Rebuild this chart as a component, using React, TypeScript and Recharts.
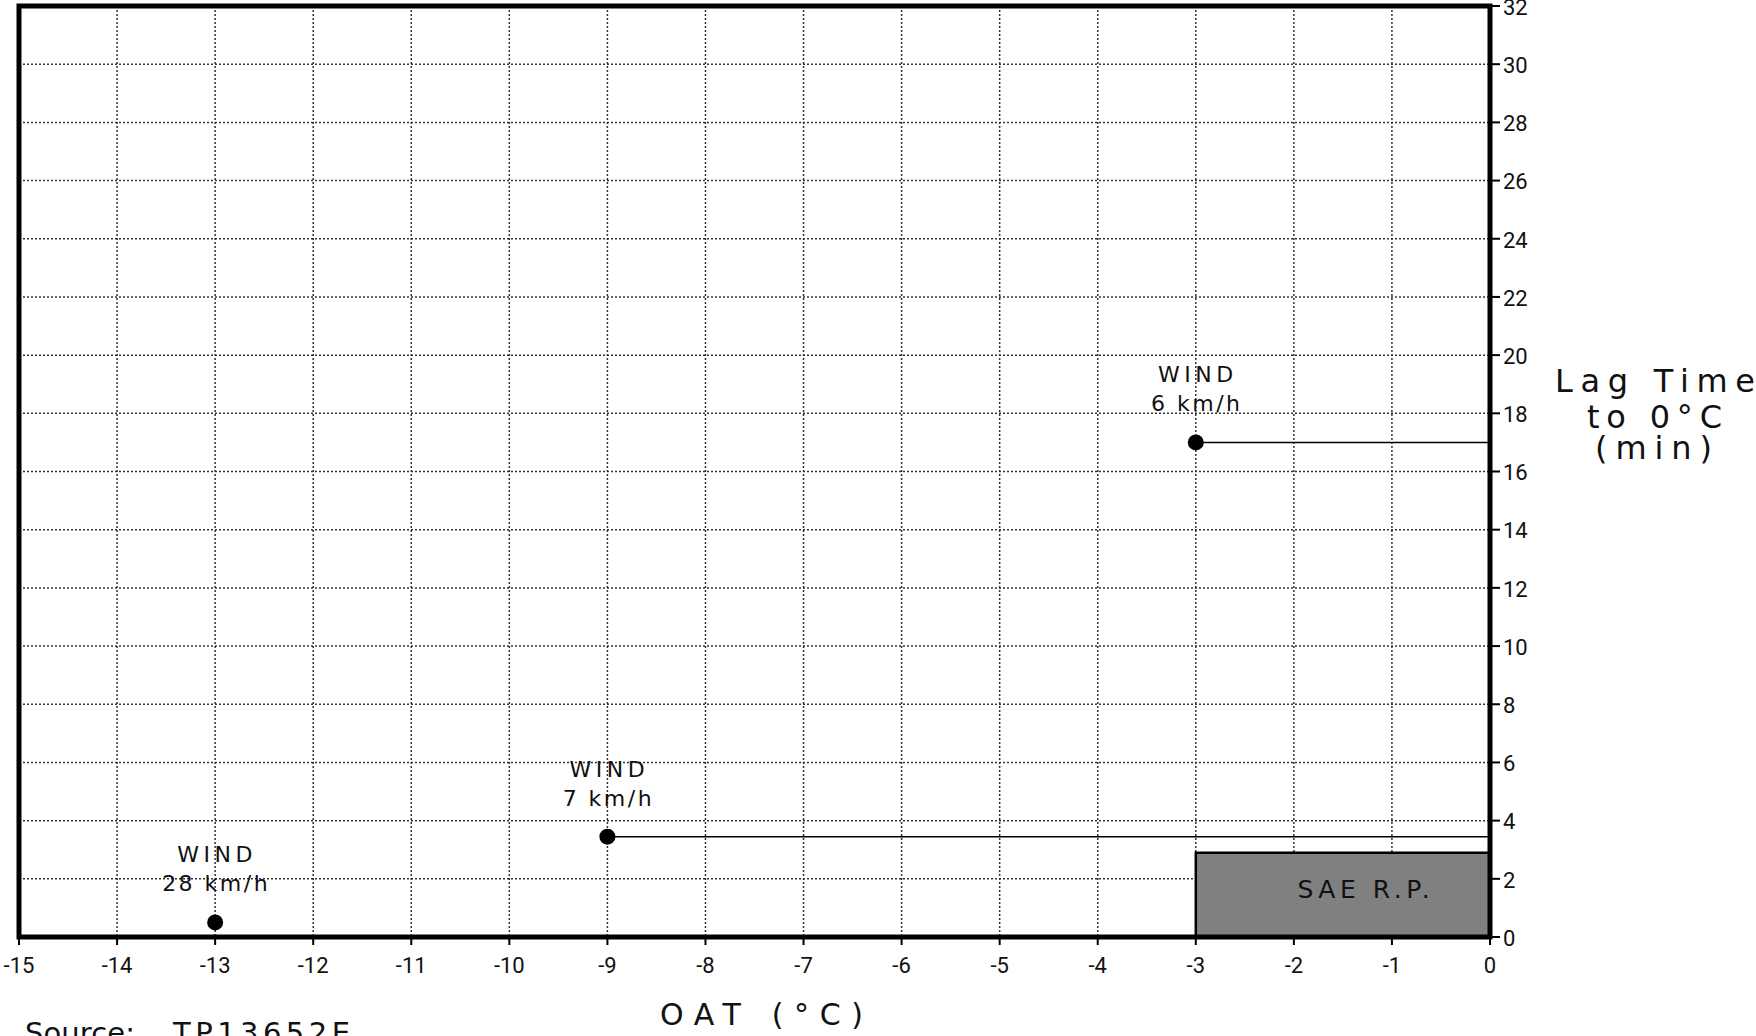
import React from 'react';
import {
  ComposedChart,
  Scatter,
  XAxis,
  YAxis,
  CartesianGrid,
  ReferenceArea,
  ReferenceLine,
  Label,
  Customized,
} from 'recharts';

const xTicks = [-15, -14, -13, -12, -11, -10, -9, -8, -7, -6, -5, -4, -3, -2, -1, 0];
const yTicks = [0, 2, 4, 6, 8, 10, 12, 14, 16, 18, 20, 22, 24, 26, 28, 30, 32];

// test points: outside air temp vs lag time
const oat = [-13, -9, -3];
const lagTime = [0.5, 3.45, 17];
const windSpeed = ['28 km/h', '7 km/h', '6 km/h'];
const extendToZero = [false, true, true];

// SAE recommended practice block
const saeOat = [-3, 0];
const saeLag = [0, 2.9];

const points = oat.map((x, i) => ({ x, y: lagTime[i], wind: windSpeed[i] }));

const SANS = '"DejaVu Sans", Verdana, sans-serif';

const WindDot = (props: any) => {
  const { cx, cy, payload } = props;
  return (
    <g>
      <circle cx={cx} cy={cy} r={8} fill="#000" />
      <text x={cx + 2} y={cy - 60} textAnchor="middle" fontSize={22} letterSpacing={4.5} fontFamily={SANS} fill="#111">
        WIND
      </text>
      <text x={cx + 1} y={cy - 31} textAnchor="middle" fontSize={22} letterSpacing={2.5} fontFamily={SANS} fill="#111">
        {payload.wind}
      </text>
    </g>
  );
};

const Titles = () => (
  <g fontFamily={SANS} fill="#111">
    <text x={1555} y={392} fontSize={32} textLength={200} lengthAdjust="spacing">Lag Time</text>
    <text x={1587} y={428} fontSize={32} textLength={135} lengthAdjust="spacing">to 0°C</text>
    <text x={1595} y={459} fontSize={32} textLength={117} lengthAdjust="spacing">(min)</text>
    <text x={660} y={1025} fontSize={30} textLength={203} lengthAdjust="spacing">OAT (°C)</text>
    <text x={25} y={1043} fontSize={29} textLength={110} lengthAdjust="spacing">Source:</text>
    <text x={173} y={1043} fontSize={29} textLength={177} lengthAdjust="spacing">TP13652E</text>
  </g>
);

export default function App() {
  return (
    <div style={{ position: 'absolute', left: 0, top: 0, width: 1756, height: 1036, background: '#fff' }}>
      <ComposedChart
        width={1756}
        height={1036}
        data={points}
        margin={{ top: 6, right: 0, bottom: 0, left: 19 }}
      >
        <CartesianGrid stroke="#333" strokeDasharray="2 2" strokeWidth={1.5} />
        <XAxis
          type="number"
          dataKey="x"
          domain={[-15, 0]}
          ticks={xTicks}
          interval={0}
          height={99}
          axisLine={false}
          tickLine={{ stroke: '#000', strokeWidth: 2 }}
          tickSize={8}
          tickMargin={12}
          tick={{ fill: '#111', fontSize: 22, fontFamily: 'Roboto' }}
        />
        <YAxis
          type="number"
          dataKey="y"
          orientation="right"
          domain={[0, 32]}
          ticks={yTicks}
          interval={0}
          width={266}
          axisLine={false}
          tickLine={{ stroke: '#000', strokeWidth: 2 }}
          tickSize={10}
          tickMargin={3}
          tick={{ fill: '#111', fontSize: 22, fontFamily: 'Roboto', textAnchor: 'start', dy: 1 }}
        />
        <ReferenceArea
          x1={saeOat[0]}
          x2={saeOat[1]}
          y1={saeLag[0]}
          y2={saeLag[1]}
          fill="#808080"
          fillOpacity={1}
          stroke="#000"
          strokeWidth={2.5}
        >
          <Label value="SAE R.P." position="center" dx={23} dy={-6} fontSize={25} fontFamily={SANS} fill="#111" letterSpacing={4.5} />
        </ReferenceArea>
        {points.map((p, i) =>
          extendToZero[i] ? (
            <ReferenceLine
              key={i}
              segment={[{ x: p.x, y: p.y }, { x: 0, y: p.y }]}
              stroke="#000"
              strokeWidth={1.5}
            />
          ) : null
        )}
        <ReferenceArea
          x1={xTicks[0]}
          x2={xTicks[xTicks.length - 1]}
          y1={yTicks[0]}
          y2={yTicks[yTicks.length - 1]}
          fill="none"
          stroke="#000"
          strokeWidth={5}
        />
        <Scatter data={points} dataKey="y" shape={<WindDot />} isAnimationActive={false} />
        <Customized component={Titles} />
      </ComposedChart>
    </div>
  );
}
